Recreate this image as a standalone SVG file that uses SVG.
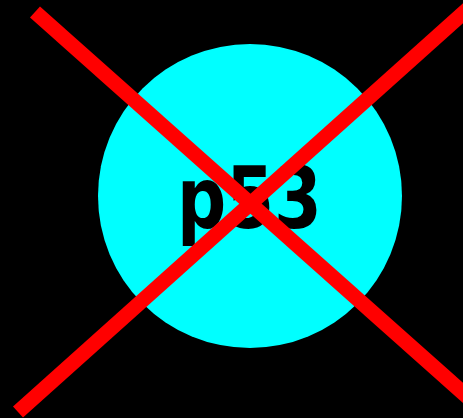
<svg xmlns="http://www.w3.org/2000/svg" width="463" height="418" viewBox="0 0 463 418">
<style>
.x{stroke:#ff0000;stroke-width:15;stroke-linecap:butt;fill:none}
.lbl{font-family:"DejaVu Sans","Liberation Sans",sans-serif;font-weight:bold;font-size:86px;fill:#000}
</style>
<rect x="0" y="0" width="463" height="418" fill="#000"/>
<g id="p53">
<circle cx="250" cy="196" r="152" fill="#00ffff"/>
<text class="lbl" x="177" y="228" textLength="145" lengthAdjust="spacingAndGlyphs">p53</text>
</g>
<g id="connectors">
<line class="x" x1="35" y1="12" x2="480" y2="408"/>
<line class="x" x1="18" y1="412" x2="480" y2="-2"/>
</g>
</svg>
